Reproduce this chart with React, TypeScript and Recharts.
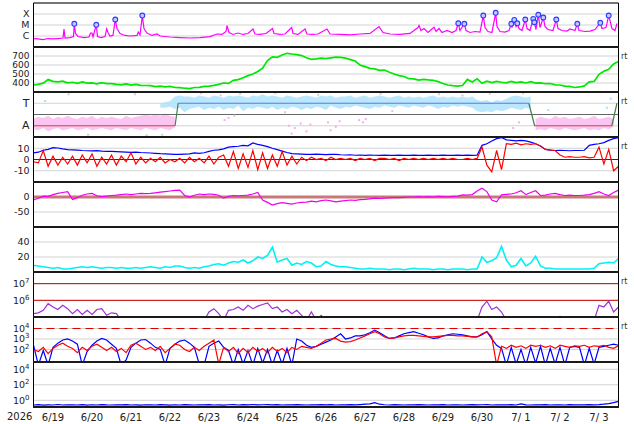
import React from "react";
import { ComposedChart, Line, Area, Scatter, XAxis, YAxis, CartesianGrid, ReferenceLine } from "recharts";

const FONT = '"DejaVu Sans", sans-serif';
const W = 634;
const AXIS_W = 33.5;
const RIGHT = 15.5;
const PAD = 2;

// day boundaries (days since 6/19 00UT) and day labels
const dayLines = [1, 2, 3, 4, 5, 6, 7, 8, 9, 10, 11, 12, 13, 14];
const dayMids = [0.5, 1.5, 2.5, 3.5, 4.5, 5.5, 6.5, 7.5, 8.5, 9.5, 10.5, 11.5, 12.5, 13.5, 14.5];
const dayLabels = ["6/19", "6/20", "6/21", "6/22", "6/23", "6/24", "6/25", "6/26", "6/27", "6/28", "6/29", "6/30", "7/ 1", "7/ 2", "7/ 3"];

// X-ray flux, log10(W/m2), [day, value]
const xray = [
  [0, -6.23], [0.115, -6.27], [0.244, -6.32], [0.372, -6.23], [0.5, -6.27], [0.628, -6.23], [0.756, -6.18], [0.782, -5.36], [0.808, -6.18],
  [0.936, -6.14], [1.026, -6.05], [1.046, -4.89], [1.077, -5.77], [1.141, -6.05], [1.295, -6.14], [1.423, -6.09], [1.462, -5.73], [1.5, -5.73],
  [1.526, -6.09], [1.61, -4.98], [1.641, -6.05], [1.731, -6.14], [1.833, -6.05], [1.877, -5.36], [1.91, -5.68], [1.962, -6.0], [2.038, -5.95],
  [2.097, -4.5], [2.141, -5.32], [2.218, -5.77], [2.346, -5.95], [2.474, -6.0], [2.654, -5.95], [2.687, -5.65], [2.731, -5.91], [2.79, -4.14],
  [2.833, -5.32], [2.91, -5.73], [3.038, -5.95], [3.167, -5.82], [3.244, -6.0], [3.5, -6.09], [3.756, -6.14], [4.013, -6.18], [4.269, -6.14],
  [4.526, -6.05], [4.705, -5.82], [4.833, -5.86], [4.936, -5.59], [4.962, -5.05], [5.013, -5.68], [5.115, -5.86], [5.244, -5.73], [5.372, -5.86],
  [5.5, -5.77], [5.628, -5.36], [5.679, -5.82], [5.808, -5.86], [5.962, -5.77], [6.128, -5.32], [6.167, -5.77], [6.321, -5.86], [6.449, -5.82],
  [6.621, -5.23], [6.654, -5.77], [6.782, -5.86], [6.962, -5.36], [7.013, -5.82], [7.141, -5.86], [7.295, -5.82], [7.526, -5.36], [7.603, -5.82],
  [7.859, -5.86], [8.115, -5.89], [8.372, -5.82], [8.628, -5.77], [8.859, -5.14], [8.962, -5.68], [9.141, -5.82], [9.397, -5.86], [9.654, -5.77],
  [9.859, -5.23], [9.885, -5.05], [9.936, -5.5], [10.013, -5.32], [10.115, -5.68], [10.269, -5.2], [10.321, -5.59], [10.397, -5.32], [10.474, -5.68],
  [10.603, -5.5], [10.731, -5.68], [10.833, -5.5], [10.892, -4.84], [10.936, -5.5], [11.046, -4.89], [11.09, -5.5], [11.192, -5.68], [11.321, -5.59],
  [11.449, -5.64], [11.533, -4.14], [11.577, -5.23], [11.654, -5.59], [11.756, -5.68], [11.851, -3.89], [11.885, -5.14], [11.962, -5.59], [12.09, -5.64],
  [12.192, -5.5], [12.251, -4.89], [12.269, -5.23], [12.328, -4.53], [12.372, -5.14], [12.405, -4.84], [12.449, -5.32], [12.526, -5.5], [12.61, -4.5],
  [12.654, -5.32], [12.731, -5.5], [12.815, -4.44], [12.841, -4.75], [12.885, -5.41], [12.944, -4.07], [12.987, -5.23], [13.072, -4.32], [13.115, -5.14],
  [13.192, -5.41], [13.321, -5.5], [13.405, -4.5], [13.449, -5.32], [13.551, -5.5], [13.679, -5.55], [13.756, -5.36], [13.885, -5.5], [13.944, -4.89],
  [13.987, -5.5], [14.141, -5.59], [14.269, -5.55], [14.397, -5.41], [14.533, -4.8], [14.577, -5.32], [14.679, -5.23], [14.749, -4.14], [14.782, -4.59],
  [14.833, -5.32], [14.91, -5.5], [14.962, -4.86],
];

// flare peaks [day, log10 flux]
const flares = [
  [1.046, -4.89], [1.61, -4.98], [2.097, -4.5], [2.79, -4.14], [10.892, -4.84], [11.046, -4.89], [11.533, -4.14], [11.851, -3.89],
  [12.251, -4.89], [12.328, -4.53], [12.405, -4.84], [12.61, -4.5], [12.815, -4.44], [12.841, -4.75], [12.944, -4.07], [13.072, -4.32],
  [13.405, -4.5], [13.944, -4.89], [14.533, -4.8], [14.749, -4.14],
];

// 3-hourly series (8 values per day, 6/19 00UT .. 7/4 00UT)
const speed = [
  378, 384, 398, 438, 418, 412, 420, 402,
  408, 396, 412, 398, 402, 390, 404, 394,
  392, 384, 380, 390, 376, 384, 374, 372,
  370, 360, 366, 356, 362, 350, 348, 342,
  338, 350, 352, 362, 366, 374, 384, 400,
  395, 430, 438, 458, 482, 500, 528, 565,
  650, 690, 685, 712, 730, 722, 716, 705,
  680, 662, 668, 676, 672, 680, 688, 684,
  676, 660, 644, 598, 582, 562, 556, 540,
  544, 520, 500, 482, 472, 448, 446, 432,
  440, 434, 430, 415, 395, 378, 370, 366,
  372, 440, 412, 446, 396, 420, 405, 418,
  408, 402, 418, 404, 412, 400, 414, 398,
  402, 392, 394, 380, 378, 366, 362, 350,
  356, 368, 412, 418, 496, 530, 552, 612,
  640,
];

const bt = [
  5.9, 6.5, 8.2, 9.0, 10.6, 10.2, 9.4, 8.8,
  8.6, 8.4, 8.0, 7.8, 7.6, 7.8, 7.5, 7.3,
  7.2, 7.0, 6.8, 6.6, 6.4, 6.6, 6.2, 6.0,
  5.8, 5.5, 5.2, 5.0, 4.8, 4.6, 4.5, 4.8,
  5.0, 5.9, 5.4, 6.0, 7.2, 8.2, 8.5, 9.5,
  11, 11.5, 11.8, 12.6, 12.2, 14.7, 13.5, 12.6,
  11.5, 10, 8.8, 7.5, 6.2, 5.2, 5.0, 4.8,
  4.5, 4.6, 4.8, 4.6, 4.4, 4.6, 4.5, 4.2,
  4.0, 4.2, 3.8, 4.0, 3.7, 3.9, 3.8, 3.7,
  3.8, 3.6, 3.7, 3.9, 3.6, 3.7, 3.8, 3.7,
  3.6, 3.8, 3.7, 3.6, 3.8, 3.7, 3.6, 3.8,
  3.7, 3.8, 3.7, 3.8, 12.6, 14.0, 16.5, 18.5,
  19.5, 17.5, 17, 16.5, 17, 16.5, 15.5, 14,
  12, 9, 8.2, 8.0, 8.2, 8.0, 7.8, 8.0,
  8.0, 8.2, 12.6, 13.5, 14, 15, 17, 18.5,
  19.5,
];

const bz = [
  -2, -3, 8, -6, 3, -5, 2, -4,
  3, -5, 4, -3, 5, -6, 2, -4,
  4, -5, 3, -2, 6, -4, 2, -3,
  1, -2, 2, -3, 0, -2, 1, -3,
  2, -2, 1, -3, 3, -4, 2, 4,
  -6, 7, -8, 5, -7, 8, -9, 6,
  -8, 4, -6, 7, -5, 3, -4, 2,
  -1, 2, 0, 1, -1, 2, 0, 1,
  0, 1, -1, 1, 0, 1, -1, 1,
  1, 0, 1, -1, 1, 0, 1, 0,
  1, 0, 1, 0, 1, 0, 1, 0,
  0, 1, 0, 1, 11, -5, -11, 8,
  -9, 14, 13.5, 14.5, 13, 14, 13.5, 14,
  12, 9, 8.5, 8, 4, 2, 2.5, 2,
  2, 2.5, 1.5, 2, 11, -4, 9, -10,
  -6,
];

const dst = [
  -10, -4, 3, 2, 8, 12, 15, 18,
  -8, -2, 6, 10, 12, 4, 1, 3,
  5, 6, 8, 10, 8, 10, 12, 11,
  12, 14, 16, 18, 20, 22, 23, 5,
  0, 6, 10, 8, 10, 9, 6, -4,
  2, 5, 4, 5, 6, 10, 15, -10,
  -18, -27, -22, -19, -21, -24, -20, -18,
  -17, -14, -16, -12, -10, -13, -16, -14,
  -12, -10, -11, -9, -8, -6, -4, -5,
  -4, -3, -2, -2, -1, 0, 0, 1,
  0, 1, 0, 2, 1, 0, 2, 3,
  7, 6, 8, 20, 29, 18, -10, -16,
  7, 9, 10, 14, 21, 8, 15, 21,
  5, 6, 10, 12, 8, 5, 6, 5,
  5, 6, 8, 12, 18, 10, 5, 15,
  23,
];

const activity = [
  9, 8, 7, 6, 5, 6, 4, 4,
  5, 6, 7, 6, 7, 6, 5, 6,
  6, 5, 6, 5, 5, 6, 5, 6,
  7, 6, 5, 7, 6, 8, 8, 6,
  5, 6, 5, 7, 8, 10, 11, 9,
  12, 14, 13, 16, 12, 15, 20, 18,
  22, 33, 13, 16, 18, 9, 12, 10,
  14, 12, 7, 8, 14, 10, 8, 7,
  7, 6, 5, 4, 4, 5, 4, 4,
  4, 3, 4, 4, 3, 4, 5, 4,
  4, 4, 3, 4, 4, 3, 4, 4,
  4, 3, 4, 4, 20, 13, 15, 19,
  34, 16, 7, 9, 18, 8, 12, 21,
  8, 5, 5, 4, 4, 4, 4, 4,
  4, 4, 4, 5, 11, 12, 13, 12,
  18,
];

// electron fluence, log10
const electrons = [
  5.2, 5.25, 5.4, 5.8, 5.6, 5.45, 5.7, 5.5,
  5.2, 5.45, 5.15, 5.4, 5.15, 5.45, 5.5, 5.1,
  5.25, 5.2, 4.8, 4.8, 4.8, 4.8, 4.8, 4.8,
  4.8, 4.8, 4.8, 4.8, 4.8, 4.8, 4.8, 4.8,
  4.8, 4.8, 4.8, 4.8, 5.3, 5.5, 5.2, 4.8,
  5.4, 5.45, 5.6, 5.4, 5.7, 5.5, 5.65, 5.75,
  5.85, 5.5, 5.6, 5.3, 5.45, 5.2, 5.4, 5.1,
  4.8, 5.3, 4.8, 5.1, 4.8, 4.8, 4.8, 4.8,
  4.8, 4.8, 4.8, 4.8, 4.8, 4.8, 4.8, 4.8,
  4.8, 4.8, 4.8, 4.8, 4.8, 4.8, 4.8, 4.8,
  4.8, 4.8, 4.8, 4.8, 4.8, 4.8, 4.8, 4.8,
  4.8, 4.8, 4.8, 4.8, 5.6, 5.95, 5.45, 5.6,
  5.3, 4.8, 4.8, 4.8, 4.8, 4.8, 4.8, 4.8,
  4.8, 4.8, 4.8, 4.8, 5.05, 4.8, 4.8, 4.8,
  4.8, 4.8, 4.8, 4.8, 5.7, 5.6, 5.95, 5.3,
  5.6,
];

// proton / electron flux channels, log10
const fluxBlue = [
  2.4, 0.5, 1.9, 0.5, 2.2, 2.6, 2.9, 3.0,
  2.8, 2.5, 0.5, 1.8, 2.4, 2.8, 3.05, 2.9,
  2.5, 2.1, 0.5, 1.0, 2.2, 2.6, 2.9, 2.95,
  2.6, 2.2, 2.0, 0.5, 2.1, 2.5, 2.8, 2.9,
  2.6, 2.2, 0.6, 0.5, 2.3, 2.6, 2.8, 2.2,
  1.9, 0.5, 2.0, 0.6, 1.9, 0.5, 2.1, 0.7,
  2.0, 0.5, 1.9, 0.6, 2.1, 0.5, 3.0, 2.8,
  2.4, 2.2, 2.3, 2.5, 2.7, 2.9, 3.2, 3.5,
  3.0, 3.1, 3.3, 3.3, 3.4, 3.6, 3.85, 3.6,
  3.3, 3.05, 3.1, 3.3, 3.5, 3.6, 3.7, 3.55,
  3.4, 3.2, 3.05, 3.1, 3.3, 3.4, 3.5, 3.45,
  3.4, 3.3, 3.2, 3.2, 3.4, 3.7, 3.0, 2.4,
  2.1, 0.5, 2.2, 0.6, 2.0, 0.5, 2.2, 0.7,
  2.3, 0.5, 2.1, 0.6, 2.2, 0.5, 2.2, 2.3,
  2.2, 0.5, 2.1, 0.6, 2.2, 2.3, 2.4, 2.5,
  2.4,
];

const fluxRed = [
  2.0, 1.8, 2.2, 1.6, 2.1, 2.4, 2.6, 2.3,
  2.1, 1.7, 2.2, 1.9, 2.3, 2.5, 2.2, 1.9,
  2.2, 1.8, 2.1, 1.7, 2.4, 2.6, 2.3, 2.0,
  2.2, 1.9, 2.3, 1.7, 2.1, 2.5, 2.4, 2.0,
  1.8, 2.2, 1.9, 2.3, 2.6, 2.9, 0.6, 2.2,
  1.8, 2.2, 1.6, 2.1, 1.7, 2.2, 1.8, 2.1,
  1.7, 2.2, 1.8, 2.1, 1.7, 2.2, 2.0, 2.3,
  2.2, 2.1, 2.3, 2.6, 2.9, 3.0, 3.05, 2.8,
  2.7, 2.75, 2.9, 3.1, 3.3, 3.5, 3.7, 3.5,
  3.2, 3.05, 3.1, 3.2, 3.3, 3.35, 3.35, 3.3,
  3.25, 3.2, 3.2, 3.25, 3.3, 3.35, 3.35, 3.3,
  3.3, 3.25, 3.2, 3.2, 3.5, 3.7, 3.2, 0.5,
  2.3, 2.1, 2.4, 2.2, 2.35, 2.1, 2.4, 2.3,
  2.4, 2.2, 2.35, 2.1, 2.4, 2.3, 2.2, 2.35,
  2.3, 2.4, 2.2, 2.35, 2.3, 2.4, 2.2, 2.1,
  2.35,
];

const fluxLow = [
  -0.6, -0.55, -0.62, -0.58, -0.6, -0.54, -0.6, -0.57,
  -0.58, -0.6, -0.55, -0.61, -0.57, -0.6, -0.56, -0.59,
  -0.6, -0.57, -0.59, -0.55, -0.6, -0.58, -0.62, -0.57,
  -0.59, -0.6, -0.56, -0.58, -0.61, -0.57, -0.6, -0.55,
  -0.58, -0.6, -0.57, -0.59, -0.55, -0.6, -0.58, -0.61,
  -0.57, -0.55, -0.6, -0.56, -0.58, -0.54, -0.59, -0.57,
  -0.56, -0.58, -0.55, -0.6, -0.57, -0.59, -0.56, -0.58,
  -0.6, -0.57, -0.59, -0.56, -0.58, -0.55, -0.6, -0.57,
  -0.58, -0.56, -0.59, -0.55, -0.5, -0.45, -0.3, -0.5,
  -0.57, -0.6, -0.56, -0.58, -0.6, -0.57, -0.59, -0.56,
  -0.58, -0.6, -0.57, -0.59, -0.56, -0.6, -0.58, -0.57,
  -0.6, -0.58, -0.56, -0.59, -0.57, -0.55, -0.6, -0.58,
  -0.57, -0.59, -0.55, -0.6, -0.45, -0.58, -0.6, -0.57,
  -0.59, -0.56, -0.6, -0.58, -0.57, -0.6, -0.56, -0.58,
  -0.57, -0.59, -0.56, -0.58, -0.55, -0.5, -0.42, -0.3,
  -0.13,
];

// IMF sector: 1 = Away, 3 = Toward; bands [day, low, high]
const awayBand1 = [
  [0, 0.7, 1.6], [0.125, 0.6, 1.8], [0.25, 0.8, 1.7], [0.375, 0.5, 1.9], [0.5, 0.7, 1.6], [0.625, 0.8, 1.8], [0.75, 0.6, 1.7], [0.875, 0.7, 1.9],
  [1, 0.8, 1.7], [1.125, 0.6, 1.6], [1.25, 0.7, 1.8], [1.375, 0.8, 1.7], [1.5, 0.6, 1.9], [1.625, 0.7, 1.6], [1.75, 0.8, 1.8], [1.875, 0.7, 1.7],
  [2, 0.6, 1.8], [2.125, 0.8, 1.7], [2.25, 0.7, 1.6], [2.375, 0.6, 1.9], [2.5, 0.8, 1.7], [2.625, 0.7, 1.8], [2.75, 0.6, 1.9], [2.875, 0.8, 2.0],
  [3, 0.7, 1.9], [3.125, 0.6, 2.0], [3.25, 0.8, 1.9], [3.375, 0.7, 2.1], [3.5, 0.6, 1.9], [3.625, 0.9, 1.8],
];
const towardBand = [
  [3.25, 2.6, 3.0], [3.375, 2.6, 3.1], [3.5, 2.7, 3.2], [3.625, 2.5, 3.6], [3.75, 2.6, 3.7], [3.875, 2.2, 3.6],
  [4, 2.5, 3.6], [4.125, 2.6, 3.5], [4.25, 2.7, 3.7], [4.375, 2.4, 3.6], [4.5, 2.6, 3.5], [4.625, 2.5, 3.7], [4.75, 2.7, 3.6], [4.875, 2.4, 3.5],
  [5, 2.6, 3.7], [5.125, 2.5, 3.6], [5.25, 2.8, 3.7], [5.375, 2.3, 3.6], [5.5, 2.6, 3.5], [5.625, 2.5, 3.7], [5.75, 2.7, 3.6], [5.875, 2.6, 3.8],
  [6, 2.5, 3.6], [6.125, 2.7, 3.7], [6.25, 2.4, 3.6], [6.375, 2.6, 3.5], [6.5, 2.5, 3.7], [6.625, 2.7, 3.6], [6.75, 2.6, 3.5], [6.875, 2.4, 3.6],
  [7, 2.6, 3.7], [7.125, 2.5, 3.6], [7.25, 2.7, 3.5], [7.375, 2.6, 3.7], [7.5, 2.4, 3.6], [7.625, 2.8, 3.7], [7.75, 2.6, 3.5], [7.875, 2.5, 3.6],
  [8, 2.7, 3.6], [8.125, 2.6, 3.7], [8.25, 2.8, 3.5], [8.375, 2.7, 3.6], [8.5, 2.6, 3.7], [8.625, 2.5, 3.5], [8.75, 2.7, 3.6], [8.875, 2.6, 3.7],
  [9, 2.8, 3.6], [9.125, 2.7, 3.5], [9.25, 2.6, 3.6], [9.375, 2.8, 3.7], [9.5, 2.7, 3.5], [9.625, 2.6, 3.6], [9.75, 2.8, 3.5], [9.875, 2.7, 3.6],
  [10, 2.6, 3.5], [10.125, 2.8, 3.6], [10.25, 2.7, 3.7], [10.375, 2.5, 3.5], [10.5, 2.7, 3.6], [10.625, 2.6, 3.5], [10.75, 2.8, 3.6], [10.875, 2.7, 3.5],
  [11, 2.8, 3.6], [11.125, 2.7, 3.5], [11.25, 2.6, 3.6], [11.375, 2.3, 3.3], [11.5, 2.2, 3.2], [11.625, 2.3, 3.3], [11.75, 2.2, 3.1], [11.875, 2.4, 3.3],
  [12, 2.3, 3.2], [12.125, 2.4, 3.4], [12.25, 2.6, 3.6], [12.375, 2.5, 3.7], [12.5, 2.4, 3.6], [12.625, 2.6, 3.5], [12.75, 2.5, 3.6],
];
const awayBand2 = [
  [12.875, 0.6, 1.6], [13, 0.7, 1.8], [13.125, 0.6, 1.7], [13.25, 0.8, 1.6], [13.375, 0.7, 1.9], [13.5, 0.6, 1.7], [13.625, 0.8, 1.8], [13.75, 0.7, 1.6],
  [13.875, 0.6, 1.7], [14, 0.7, 1.8], [14.125, 0.8, 1.6], [14.25, 0.6, 1.7], [14.375, 0.7, 1.9], [14.5, 0.6, 1.6], [14.625, 0.8, 1.7], [14.75, 0.7, 1.8],
  [14.875, 0.9, 1.6],
];
const pinkDots = [
  [4.9, 1.5], [5.0, 1.7], [6.55, 1.0], [6.62, 0.3], [6.7, 0.8], [6.85, 1.2], [7.0, 0.5], [7.1, 1.1], [7.55, 1.3],
  [7.62, 0.6], [7.75, 0.9], [7.85, 1.4], [8.35, 1.5], [8.45, 1.3], [8.52, 1.6], [12.3, 0.8], [12.45, 1.3],
];
const grayDots = [
  [0.9, 3.8], [2.6, 3.8], [4.3, 3.9], [4.8, 3.7], [5.3, 3.85], [6.2, 3.9], [6.45, 2.2], [7.3, 3.75], [8.9, 3.85],
  [10.4, 3.8], [11.0, 3.7], [11.7, 3.85], [12.55, 3.9], [5.15, 1.9], [9.2, 2.3], [1.4, 0.2], [2.9, 0.15], [3.3, 0.2],
];
const blueDots = [[0.3, 3.2], [13.2, 2.4], [14.7, 2.6], [14.8, 3.4]];

// sector polarity (step line): away segments, toward segment, switches
const awayLine = [[0, 1], [3.63, 1], [8, null], [12.85, 1], [14.83, 1]];
const towardLine = [[3.71, 3], [12.7, 3]];
const switchLine = [[3.63, 1], [3.71, 3], [8, null], [12.7, 3], [12.85, 1], [14, null], [14.83, 1], [14.96, 3]];

const pts = (a: any[]) => a.map((p) => ({ t: p[0], v: p[1] }));
const band = (a: number[][]) => a.map((p) => ({ t: p[0], r: [p[1], p[2]] }));

const rows = speed.map((s, i) => ({
  t: i / 8,
  speed: s,
  bt: bt[i],
  bz: bz[i],
  dst: dst[i],
  activity: activity[i],
  electrons: electrons[i],
  fluxBlue: fluxBlue[i],
  fluxRed: fluxRed[i],
  fluxLow: fluxLow[i],
}));

const textTick = (labels?: Record<number, string>, size = 9.5) => (p: any) => (
  <text x={p.x} y={p.y} dy={3.4} textAnchor="end" fontSize={size} fill="#222" fontFamily={FONT}>
    {labels ? labels[p.payload.value] : p.payload.value}
  </text>
);

const powTick = (p: any) => (
  <text x={p.x} y={p.y} dy={3.4} textAnchor="end" fontSize={9.5} fill="#222" fontFamily={FONT}>
    10<tspan dy={-4} fontSize={7}>{p.payload.value}</tspan>
  </text>
);

const dateTick = (p: any) => (
  <text x={p.x} y={p.y} dy={13.5} textAnchor="middle" fontSize={10} fill="#222" fontFamily={FONT}>
    {dayLabels[dayMids.indexOf(p.payload.value)]}
  </text>
);

const flareDot = (p: any) => <circle cx={p.cx} cy={p.cy} r={2.4} fill="#c8c8ff" stroke="#2a3cff" strokeWidth={1.1} />;
const speck = (color: string) => (p: any) => <rect x={p.cx - 1} y={p.cy - 1} width={2} height={2} fill={color} />;

type PanelProps = {
  top: number;
  h: number;
  domain: [number, number];
  ticks: number[];
  tick: any;
  data?: any[];
  last?: boolean;
  children?: React.ReactNode;
};

function Panel({ top, h, domain, ticks, tick, data, last, children }: PanelProps) {
  return (
    <div style={{ position: "absolute", left: 0, top: top - PAD }}>
      <ComposedChart
        width={W}
        height={h + PAD * 2 + (last ? 20 : 0)}
        data={data}
        margin={{ top: PAD, right: RIGHT, bottom: PAD, left: 0 }}
      >
        <CartesianGrid stroke="#d2d2d2" />
        <XAxis type="number" dataKey="t" domain={[0, 15]} ticks={dayLines} tick={false} axisLine={false} tickLine={false} height={0} allowDataOverflow />
        {last && (
          <XAxis xAxisId="lab" type="number" dataKey="t" domain={[0, 15]} ticks={dayMids} tick={dateTick} axisLine={false} tickLine={false} tickSize={0} tickMargin={0} height={20} />
        )}
        <YAxis
          type="number"
          domain={domain}
          ticks={ticks}
          tick={tick}
          width={AXIS_W}
          tickSize={0}
          tickMargin={4}
          tickLine={false}
          axisLine={{ stroke: "#000" }}
          allowDataOverflow
          interval={0}
        />
        {children}
        <ReferenceLine x={15} stroke="#000" />
      </ComposedChart>
    </div>
  );
}

// panel separators (thick rules between stacked panels)
const separators = [47, 92, 137, 182, 227, 272, 317, 362, 407];

const rt = (top: number) => (
  <div style={{ position: "absolute", left: 621, top, fontFamily: FONT, fontSize: 8, lineHeight: "10px", color: "#333" }}>rt</div>
);

export default function App() {
  return (
    <div style={{ position: "absolute", left: 0, top: 0, width: W, height: 424, background: "#fff", overflow: "hidden" }}>
      {/* X-ray */}
      <Panel top={3} h={44} domain={[-7, -3]} ticks={[-6, -5, -4]} tick={textTick({ [-6]: "C", [-5]: "M", [-4]: "X" }, 9.5)}>
        <ReferenceLine y={-3} stroke="#000" />
        <Line data={pts(xray)} dataKey="v" stroke="#ff00ff" strokeWidth={1.2} dot={false} activeDot={false} isAnimationActive={false} />
        <Scatter data={pts(flares)} dataKey="v" shape={flareDot} isAnimationActive={false} />
      </Panel>

      {/* solar wind speed */}
      <Panel top={47} h={45} data={rows} domain={[300, 800]} ticks={[400, 500, 600, 700]} tick={textTick(undefined, 9)}>
        <Line dataKey="speed" stroke="#00e800" strokeWidth={1.7} dot={false} activeDot={false} isAnimationActive={false} />
      </Panel>

      {/* IMF sector */}
      <Panel top={92} h={45} domain={[0, 4]} ticks={[1, 3]} tick={textTick({ 1: "A", 3: "T" }, 11)}>
        <Area data={band(awayBand1)} dataKey="r" stroke="none" fill="#f9b2ee" fillOpacity={0.75} isAnimationActive={false} />
        <Area data={band(awayBand2)} dataKey="r" stroke="none" fill="#f9b2ee" fillOpacity={0.75} isAnimationActive={false} />
        <Area data={band(towardBand)} dataKey="r" stroke="none" fill="#aee3fb" fillOpacity={0.85} isAnimationActive={false} />
        <Scatter data={pts(pinkDots)} dataKey="v" shape={speck("#f7aee9")} isAnimationActive={false} />
        <Scatter data={pts(grayDots)} dataKey="v" shape={speck("#cfcfcf")} isAnimationActive={false} />
        <Scatter data={pts(blueDots)} dataKey="v" shape={speck("#a8defa")} isAnimationActive={false} />
        <ReferenceLine y={2} stroke="#666" />
        <Line data={pts(awayLine)} dataKey="v" stroke="#e0403c" strokeWidth={1.2} dot={false} activeDot={false} isAnimationActive={false} />
        <Line data={pts(towardLine)} dataKey="v" stroke="#6676f0" strokeWidth={1.2} dot={false} activeDot={false} isAnimationActive={false} />
        <Line data={pts(switchLine)} dataKey="v" stroke="#3f7f4f" strokeWidth={1.2} dot={false} activeDot={false} isAnimationActive={false} />
      </Panel>

      {/* IMF Bt / Bz */}
      <Panel top={137} h={45} data={rows} domain={[-20, 20]} ticks={[-10, 0, 10]} tick={textTick()}>
        <ReferenceLine y={0} stroke="#990000" />
        <Line dataKey="bt" stroke="#0000ff" strokeWidth={1.2} dot={false} activeDot={false} isAnimationActive={false} />
        <Line dataKey="bz" stroke="#ff0000" strokeWidth={1.2} dot={false} activeDot={false} isAnimationActive={false} />
      </Panel>

      {/* Dst */}
      <Panel top={182} h={45} data={rows} domain={[-100, 50]} ticks={[-50, 0]} tick={textTick()}>
        <ReferenceLine y={0} stroke="#c97878" strokeWidth={3} />
        <Line dataKey="dst" stroke="#ee00ee" strokeWidth={1.2} dot={false} activeDot={false} isAnimationActive={false} />
      </Panel>

      {/* activity index */}
      <Panel top={227} h={45} data={rows} domain={[0, 60]} ticks={[20, 40]} tick={textTick()}>
        <Line dataKey="activity" stroke="#00f2f2" strokeWidth={1.6} dot={false} activeDot={false} isAnimationActive={false} />
      </Panel>

      {/* electron fluence */}
      <Panel top={272} h={45} data={rows} domain={[5, 7.7]} ticks={[6, 7]} tick={powTick}>
        <ReferenceLine y={6} stroke="#cc0000" />
        <ReferenceLine y={7} stroke="#cc0000" />
        <Line dataKey="electrons" stroke="#a030d0" strokeWidth={1.2} dot={false} activeDot={false} isAnimationActive={false} />
      </Panel>

      {/* flux */}
      <Panel top={317} h={45} data={rows} domain={[0.8, 5.1]} ticks={[2, 3, 4]} tick={powTick}>
        <ReferenceLine y={4} stroke="#e00000" strokeDasharray="8 5" strokeWidth={1.2} />
        <Line dataKey="fluxBlue" stroke="#0000ff" strokeWidth={1.2} dot={false} activeDot={false} isAnimationActive={false} />
        <Line dataKey="fluxRed" stroke="#ff0000" strokeWidth={1.2} dot={false} activeDot={false} isAnimationActive={false} />
      </Panel>

      {/* low flux */}
      <Panel top={362} h={45} data={rows} domain={[-0.86, 4.94]} ticks={[0, 2, 4]} tick={powTick} last>
        <Line dataKey="fluxLow" stroke="#0000ff" strokeWidth={1.2} dot={false} activeDot={false} isAnimationActive={false} />
      </Panel>

      {separators.map((y) => (
        <div key={y} style={{ position: "absolute", left: 33, top: y - 1, width: 586, height: 2.2, background: "#1a1a1a" }} />
      ))}

      <div style={{ position: "absolute", left: 7, top: 411, fontFamily: FONT, fontSize: 10, lineHeight: "12px", color: "#222" }}>2026</div>
      {rt(52)}
      {rt(97)}
      {rt(142)}
      {rt(277)}
      {rt(322)}
    </div>
  );
}
